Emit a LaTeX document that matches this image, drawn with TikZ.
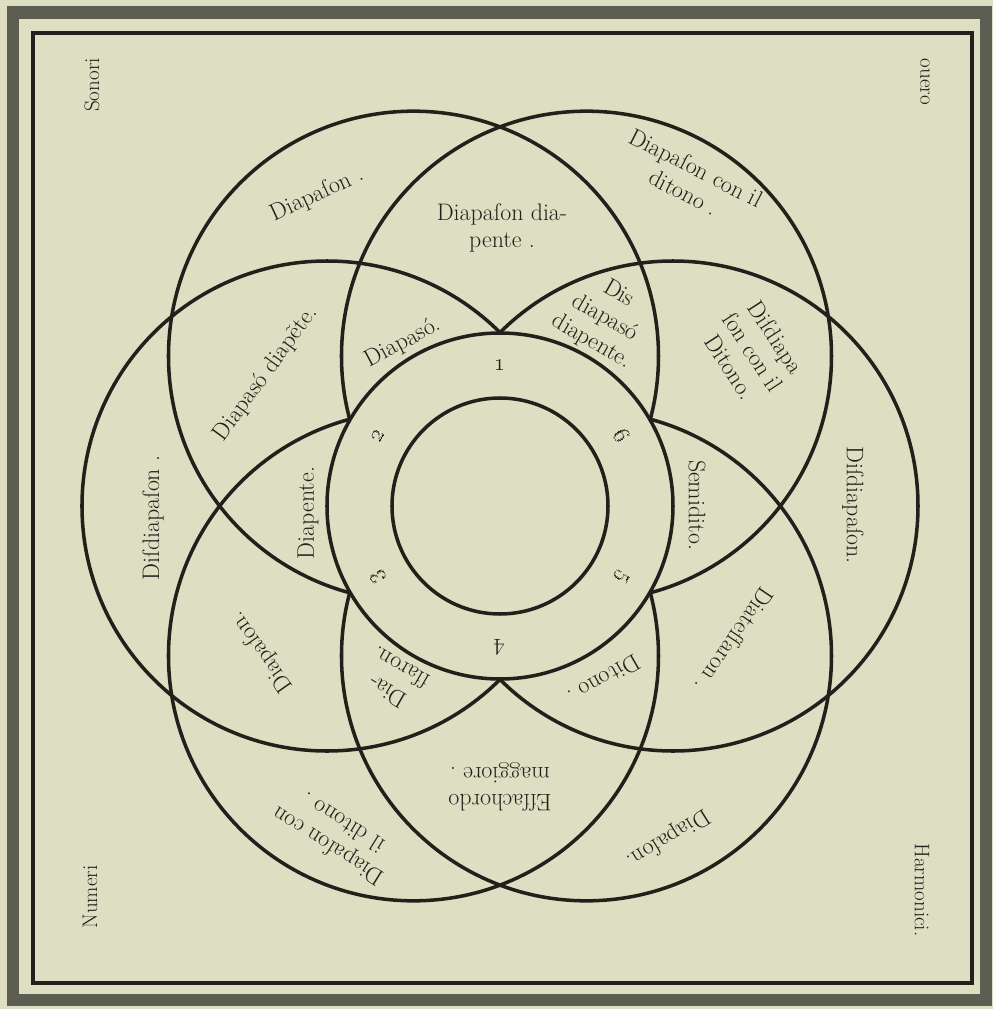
\documentclass[tikz,border=0pt]{standalone}
\usepackage{tikz}
\definecolor{paper}{RGB}{221,222,194}
\definecolor{ink}{RGB}{34,32,26}
\definecolor{band}{RGB}{92,94,82}

\tikzset{
  ring/.style={ink, line width=2.5pt},
  lbl/.style={ink, font=\fontsize{17}{19.5}\selectfont, align=center, inner sep=0pt},
  corner/.style={ink, font=\fontsize{15}{18}\selectfont, inner sep=0pt},
  num/.style={ink, font=\fontsize{19}{20}\selectfont, inner sep=0pt}
}

\begin{document}
\begin{tikzpicture}[x=0.025cm, y=0.025cm]
    % Paper and frame
    \fill[paper] (-500,-503) rectangle (493,506);
    \useasboundingbox (-500,-503) rectangle (493,506);
    \draw[band, line width=9pt] (-487,493.5) rectangle (486,-494);
    \draw[ink, line width=3pt] (-467,473) rectangle (472,-477);

    % Six circles
    \coordinate (O) at (0,0);
    \foreach \a in {0,60,...,300} {
        \coordinate (c\a) at (\a:173);
        \draw[ring] (c\a) circle[radius=245];
    }

    % Middle and inner circle
    \fill[paper] (O) circle[radius=173];
    \draw[ring] (O) circle[radius=173];
    \draw[ring] (O) circle[radius=108];

    % Numbers of the ring
    \foreach \n/\a in {1/90, 6/30, 5/-30, 4/-90, 3/-150, 2/150} {
        \node[num, rotate=\a-90] (n\n) at (\a:141) {\oldstylenums{\n}};
    }

    % Corner words
    \node[corner, rotate=90] (sonori) at (-408,421) {Sonori};
    \node[corner, rotate=90] (numeri) at (-410,-391) {Numeri};
    \node[corner, rotate=-90] (ouero) at (425,424) {ouero};
    \node[corner, rotate=-90] (harmonici) at (422,-384) {Harmonici.};

    % Intervals, upper half
    \node[lbl, rotate=25] (dpTL) at (-183,311) {Diapaſon .};
    \node[lbl] (dpdTop) at (2,278) {Diapaſon dia-\\pente .};
    \node[lbl, rotate=-27] (dpcTR) at (190,326) {Diapaſon con il\\ditono .};
    \node[lbl, rotate=-30] (ddd) at (105,188) {Dis\\diapasó\\diapente.};
    \node[lbl, rotate=-57] (dsdTR) at (253,154) {Diſdiapa\\ſon con il\\Ditono.};
    \node[lbl, rotate=28] (dpo) at (-97,163) {Diapasó.};
    \node[lbl, rotate=54] (dpdL) at (-234,132) {Diapasó diapẽte.};

    % Intervals, across the middle
    \node[lbl, rotate=90] (dsdL) at (-347,-12) {Diſdiapaſon .};
    \node[lbl, rotate=90] (dpe) at (-192,-7) {Diapente.};
    \node[lbl, rotate=-90] (smd) at (197,1) {Semidito.};
    \node[lbl, rotate=-90] (dsdR) at (353,1) {Diſdiapaſon.};

    % Intervals, lower half
    \node[lbl, rotate=-124] (dts) at (235,-134) {Diateſſaron .};
    \node[lbl, rotate=-150] (dto) at (104,-174) {Ditono .};
    \node[lbl, rotate=150] (dsr) at (-106,-174) {Dia-\\ſſaron.};
    \node[lbl, rotate=125] (dpBL) at (-238,-146) {Diapaſon.};
    \node[lbl, rotate=180] (ess) at (0,-281) {Eſſachordo\\maggiore .};
    \node[lbl, rotate=148] (dpcBL) at (-165,-329) {Diapaſon con\\il ditono .};
    \node[lbl, rotate=-148] (dpBR) at (168,-332) {Diapaſon.};
\end{tikzpicture}
\end{document}
